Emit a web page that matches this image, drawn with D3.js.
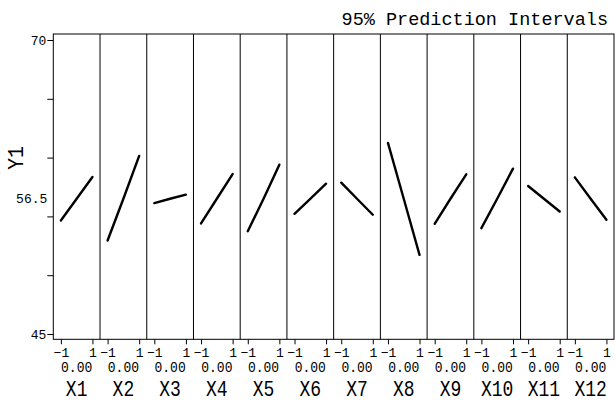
<!DOCTYPE html>
<html>
<head>
<meta charset="utf-8">
<script src="https://cdn.jsdelivr.net/npm/d3@7"></script>
<style>
  html, body { margin: 0; padding: 0; background: #fff; }
  svg { display: block; }
  text { font-family: "Liberation Mono", "DejaVu Sans Mono", monospace; fill: #000; }
</style>
</head>
<body>
<svg id="chart" width="615" height="404"></svg>
<script>
// ---- data ----
const factors = ["X1","X2","X3","X4","X5","X6","X7","X8","X9","X10","X11","X12"];
const currentSettings = [0,0,0,0,0,0,0,0,0,0,0,0];
const factorLevels = [-1, 0, 1];
const predAtLow  = [54.65, 52.95, 56.13, 54.40, 53.74, 55.22, 57.87, 61.25, 54.37, 54.00, 57.58, 58.32];
const predAtHigh = [58.35, 60.14, 56.85, 58.60, 59.40, 57.78, 55.14, 51.73, 58.58, 59.06, 55.42, 54.72];
const predCurrent = 56.5;
const yTicks = [45, 50, 55, 60, 65, 70];
const yTickLabels = [45, 70];
const xTickLabels = [-1, 1];
const titleText = "95% Prediction Intervals";
const yTitle = "Y1";

// ---- layout ----
(function () {
const svg = d3.select("#chart");
const pLeft = 53.3, pRight = 614, pTop = 34, pBottom = 339.3;
const y = d3.scaleLinear().domain([45, 70]).range([334, 40]);
const band = d3.scaleBand().domain(factors).range([pLeft, pRight]).padding(0);
const x = d3.scaleLinear().domain([-1.48, 1.48]).range([0, band.bandwidth()]);

// title
svg.append("text")
  .attr("x", 608).attr("y", 25)
  .attr("text-anchor", "end")
  .style("font-size", "18.5px")
  .text(titleText);

// frame
svg.append("rect")
  .attr("x", pLeft).attr("y", pTop)
  .attr("width", pRight - pLeft).attr("height", pBottom - pTop)
  .attr("fill", "none").attr("stroke", "#000").attr("stroke-width", 1);

// panel dividers
svg.selectAll("line.div").data(factors.slice(1)).join("line")
  .attr("class", "div")
  .attr("x1", d => band(d)).attr("x2", d => band(d))
  .attr("y1", pTop).attr("y2", pBottom)
  .attr("stroke", "#000").attr("stroke-width", 1);

// y axis ticks
const yAxis = d3.axisLeft(y).tickValues(yTicks).tickSize(6)
  .tickFormat(d => yTickLabels.includes(d) ? d3.format("d")(d) : "");
const ya = svg.append("g").attr("transform", `translate(${pLeft},0)`).call(yAxis);
ya.select(".domain").remove();
ya.selectAll("text").style("font-size", "13px").style("font-family", "Liberation Mono").attr("x", -7);

// current value label on y axis
const yc = svg.append("g").attr("transform", `translate(${pLeft},0)`)
  .call(d3.axisLeft(y).tickValues([predCurrent]).tickSize(0).tickFormat(d3.format(".1f")));
yc.select(".domain").remove();
yc.selectAll("text").style("font-size", "13px").style("font-family", "Liberation Mono").attr("x", -6);

// y title
svg.append("text")
  .attr("transform", "translate(23,158) rotate(-90) scale(1.1,1.2)")
  .attr("text-anchor", "middle")
  .style("font-size", "18px")
  .text(yTitle);

// panels
const line = d3.line().x(d => x(d[0])).y(d => y(d[1]));
factors.forEach((f, i) => {
  const pg = svg.append("g").attr("transform", `translate(${band(f)},0)`);
  const pts = [[factorLevels[0], predAtLow[i]], [factorLevels[1], predCurrent], [factorLevels[2], predAtHigh[i]]];
  pg.append("path").attr("d", line(pts))
    .attr("fill", "none").attr("stroke", "#000").attr("stroke-width", 2.4)
    .attr("stroke-linecap", "round");
  const xa = pg.append("g").attr("transform", `translate(0,${pBottom})`)
    .call(d3.axisBottom(x).tickValues(xTickLabels).tickSize(5).tickFormat(d3.format("d")));
  xa.select(".domain").remove();
  xa.selectAll("text").style("font-size", "13px").style("font-family", "Liberation Mono").attr("y", 8);
  pg.append("text")
    .attr("transform", `translate(${band.bandwidth() / 2},372) scale(1,1.1)`)
    .attr("text-anchor", "middle")
    .style("font-size", "13px")
    .text(d3.format(".2f")(currentSettings[i]));
  pg.append("text")
    .attr("transform", `translate(${band.bandwidth() / 2},396) scale(1,1.25)`)
    .attr("text-anchor", "middle")
    .style("font-size", "18px")
    .text(f);
});
})();
</script>
</body>
</html>
